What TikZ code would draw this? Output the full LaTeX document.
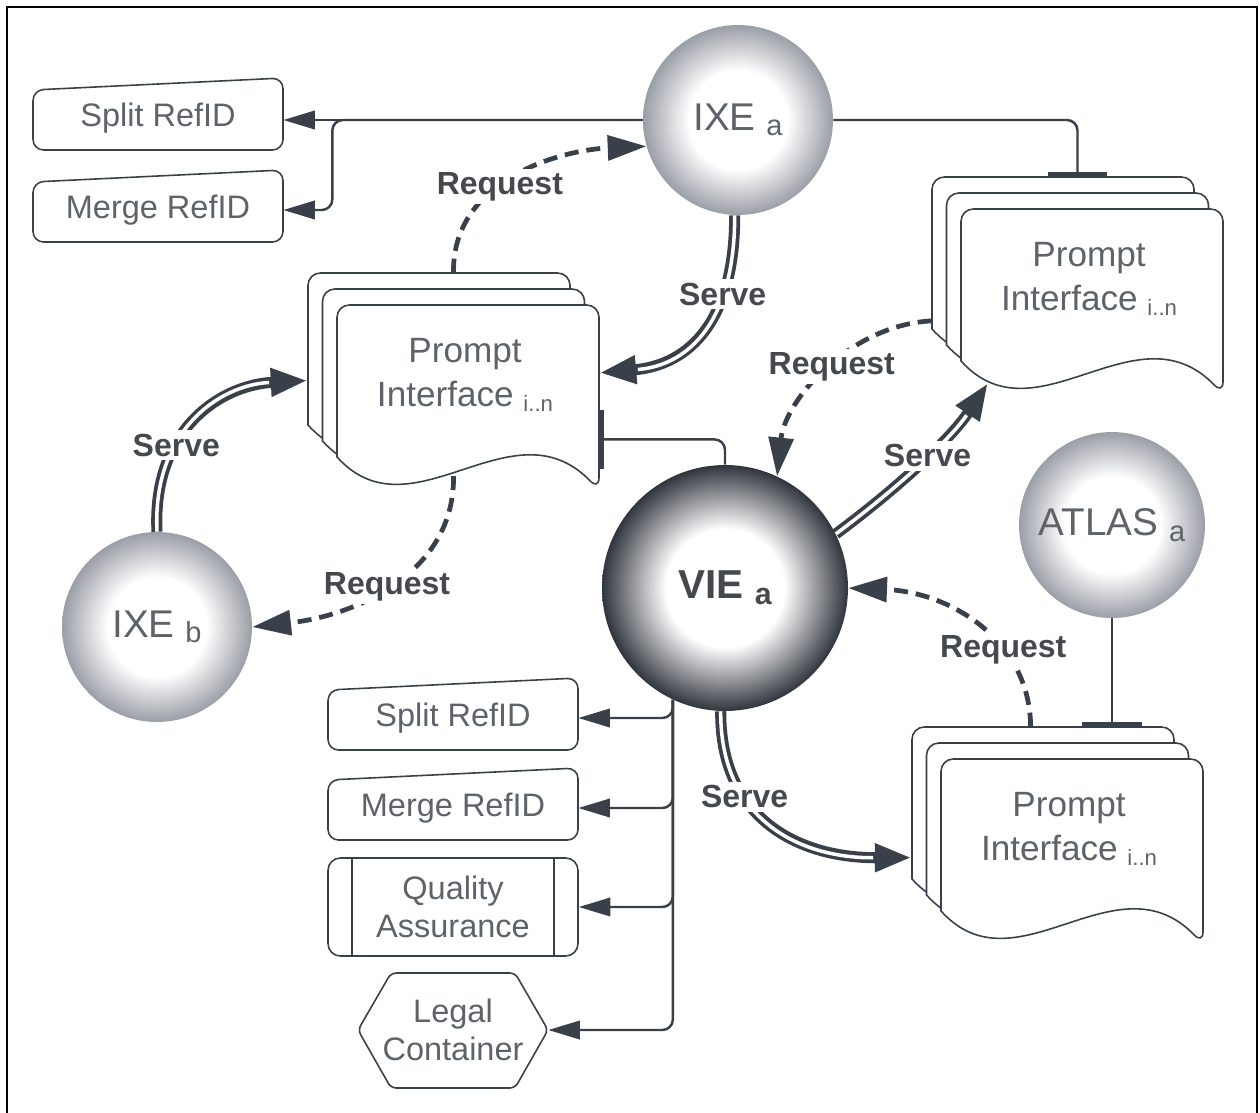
\documentclass[tikz,border=0pt]{standalone}
\usepackage{fontspec}
\setmainfont{Liberation Sans}
\usepackage{graphicx}
\usetikzlibrary{arrows.meta,calc}
\definecolor{ink}{HTML}{3A4049}
\definecolor{txt}{HTML}{5E636A}
\definecolor{lbltxt}{HTML}{45484D}
\definecolor{ixeedge}{HTML}{9A9EA6}
\definecolor{vieedge}{HTML}{30353D}
\pgfdeclareradialshading{ixeball}{\pgfpointorigin}{color(0bp)=(white); color(13bp)=(white); color(25bp)=(ixeedge); color(50bp)=(ixeedge)}
\pgfdeclareradialshading{vieball}{\pgfpointorigin}{color(0bp)=(white); color(12bp)=(white); color(25bp)=(vieedge); color(50bp)=(vieedge)}
\newcommand{\idx}[2]{\raisebox{-0.14em}{\scalebox{#1}{#2}}}
% three stacked sheets, #2,#3 = top left of the back sheet
\newcommand{\promptstack}[3]{%
  \foreach \k in {0,1,2}
    \draw[sheet, shift={(#2+14.5*\k,#3+16*\k)}] (0,152) [rounded corners=7pt] -- (0,0) -- (262,0) -- (262,185) [sharp corners] .. controls (175,95) and (75,235) .. (0,152) -- cycle;
  \node[minimum width=5.82cm, minimum height=4.3cm, inner sep=0pt] (#1) at (#2+145.5,#3+107.5) {};
  \node[ptext] at (#2+157,#3+102) {Prompt\\Interface \idx{0.63}{i..n}};
}
% box with slanted top, #3 = top left corner
\newcommand{\manualbox}[4]{%
  \draw[outline, rounded corners=6pt] (#2-125,#3+60) -- (#2-125,#3) -- (#2+125,#3-12) -- (#2+125,#3+60) -- cycle;
  \node[boxtxt, minimum width=5cm] (#1) at (#2,#3+28) {#4};
}

\begin{document}
\begin{tikzpicture}[x=0.02cm, y=-0.02cm,
    sheet/.style={draw=ink, line width=0.9pt, fill=white},
    outline/.style={draw=ink, line width=0.9pt},
    ptext/.style={text=txt, align=center, font=\fontsize{20}{25}\selectfont},
    boxtxt/.style={text=txt, align=center, inner sep=0pt, font=\fontsize{18.5}{21.5}\selectfont},
    ball/.style={circle, inner sep=0pt, minimum size=3.8cm, shade, shading=ixeball, text=txt, font=\fontsize{22}{22}\selectfont},
    link/.style={draw=ink, line width=1.4pt, -{Triangle[length=18pt,width=10.5pt]}},
    tbar/.style={draw=ink, line width=1.4pt, -{Bar[width=34pt,line width=2.8pt]}},
    request/.style={draw=ink, line width=2.7pt, dash pattern=on 8pt off 4.5pt, -{Triangle[length=22pt,width=14pt]}},
    serve/.style={draw=ink, line width=6.3pt, -{Triangle[length=21pt,width=15pt]}, postaction={draw=white, line width=2pt, -, shorten >=22pt}},
    lbl/.style={fill=white, text=lbltxt, font=\bfseries\fontsize{18.2}{18.2}\selectfont, inner sep=2pt}]
    \useasboundingbox (0,0) rectangle (1260,1112);
    \draw[line width=1.2pt] (7,7) rectangle (1257,1125);

    \promptstack{piA}{308}{273}
    \promptstack{piB}{932}{177}
    \promptstack{piC}{912}{727}

    \node[ball] (ixeA) at (738,120) {IXE \idx{0.75}{a}};
    \node[ball] (ixeB) at (157,627) {IXE \idx{0.75}{b}};
    \node[ball, minimum size=3.72cm] (atlasA) at (1112,525) {ATLAS \idx{0.75}{a}};
    \node[ball, minimum size=4.92cm, shading=vieball, text=lbltxt, font=\bfseries\fontsize{23}{23}\selectfont] (vieA) at (725,588) {VIE \idx{0.75}{a}};

    \manualbox{splitA}{158}{90}{Split RefID}
    \manualbox{mergeA}{158}{182}{Merge RefID}
    \manualbox{splitB}{453}{690}{Split RefID}
    \manualbox{mergeB}{453}{780}{Merge RefID}
    \node[outline, boxtxt, rounded corners=7pt, minimum width=5cm, minimum height=1.96cm] (qa) at (453,907) {Quality\\Assurance};
    \draw[outline] ([xshift=0.5cm]qa.north west) -- ([xshift=0.5cm]qa.south west) ([xshift=-0.5cm]qa.north east) -- ([xshift=-0.5cm]qa.south east);
    \draw[outline, rounded corners=3pt] (358,1030) -- (391,973) -- (515,973) -- (548,1030) -- (515,1088) -- (391,1088) -- cycle;
    \node[boxtxt, minimum width=3.8cm] (legal) at (453,1030) {Legal\\Container};

    \draw[link] (ixeA.west) -- (splitA.east |- ixeA.west);
    \draw[link, rounded corners=6pt] (ixeA.west) -| ([xshift=0.98cm]mergeA.east) -- (mergeA.east);
    \draw[tbar, rounded corners=6pt] (ixeA.east) -| (piB.north);
    \draw[request] (piA.north) .. controls (452,180) and (560,150) .. (ixeA.196) node[lbl, pos=0.42] {Request};
    \draw[serve] (ixeA.268) .. controls (735,320) and (690,365) .. (piA.3) node[lbl, pos=0.3] {Serve};
    \draw[tbar, rounded corners=6pt] (vieA.north) |- (piA.-22);
    \draw[serve] (ixeB.north) .. controls (152,430) and (220,385) .. (piA.west) node[lbl, pos=0.35] {Serve};
    \draw[request] ([yshift=7pt]piA.south) .. controls (455,570) and (360,615) .. (ixeB.east) node[lbl, pos=0.53] {Request};
    \draw[request] (piB.194) .. controls (850,325) and (785,400) .. (vieA.65) node[lbl, pos=0.47] {Request};
    \draw[serve] (vieA.26) .. controls (895,490) and (950,440) .. ($(piB.center)+(-89.5,98.5)$) node[lbl, pos=0.55] {Serve};
    \draw[serve] (vieA.-92) .. controls (720,820) and (800,858) .. (piC.189) node[lbl, pos=0.33] {Serve};
    \draw[request] (piC.104) .. controls (1030,640) and (950,592) .. (vieA.east) node[lbl, pos=0.35] {Request};
    \draw[tbar] (atlasA.south) -- (atlasA.south |- piC.north);
    \foreach \b in {splitB,mergeB,qa,legal}
        \draw[link, rounded corners=6pt] (vieA.245) |- (\b.east);
\end{tikzpicture}
\end{document}
